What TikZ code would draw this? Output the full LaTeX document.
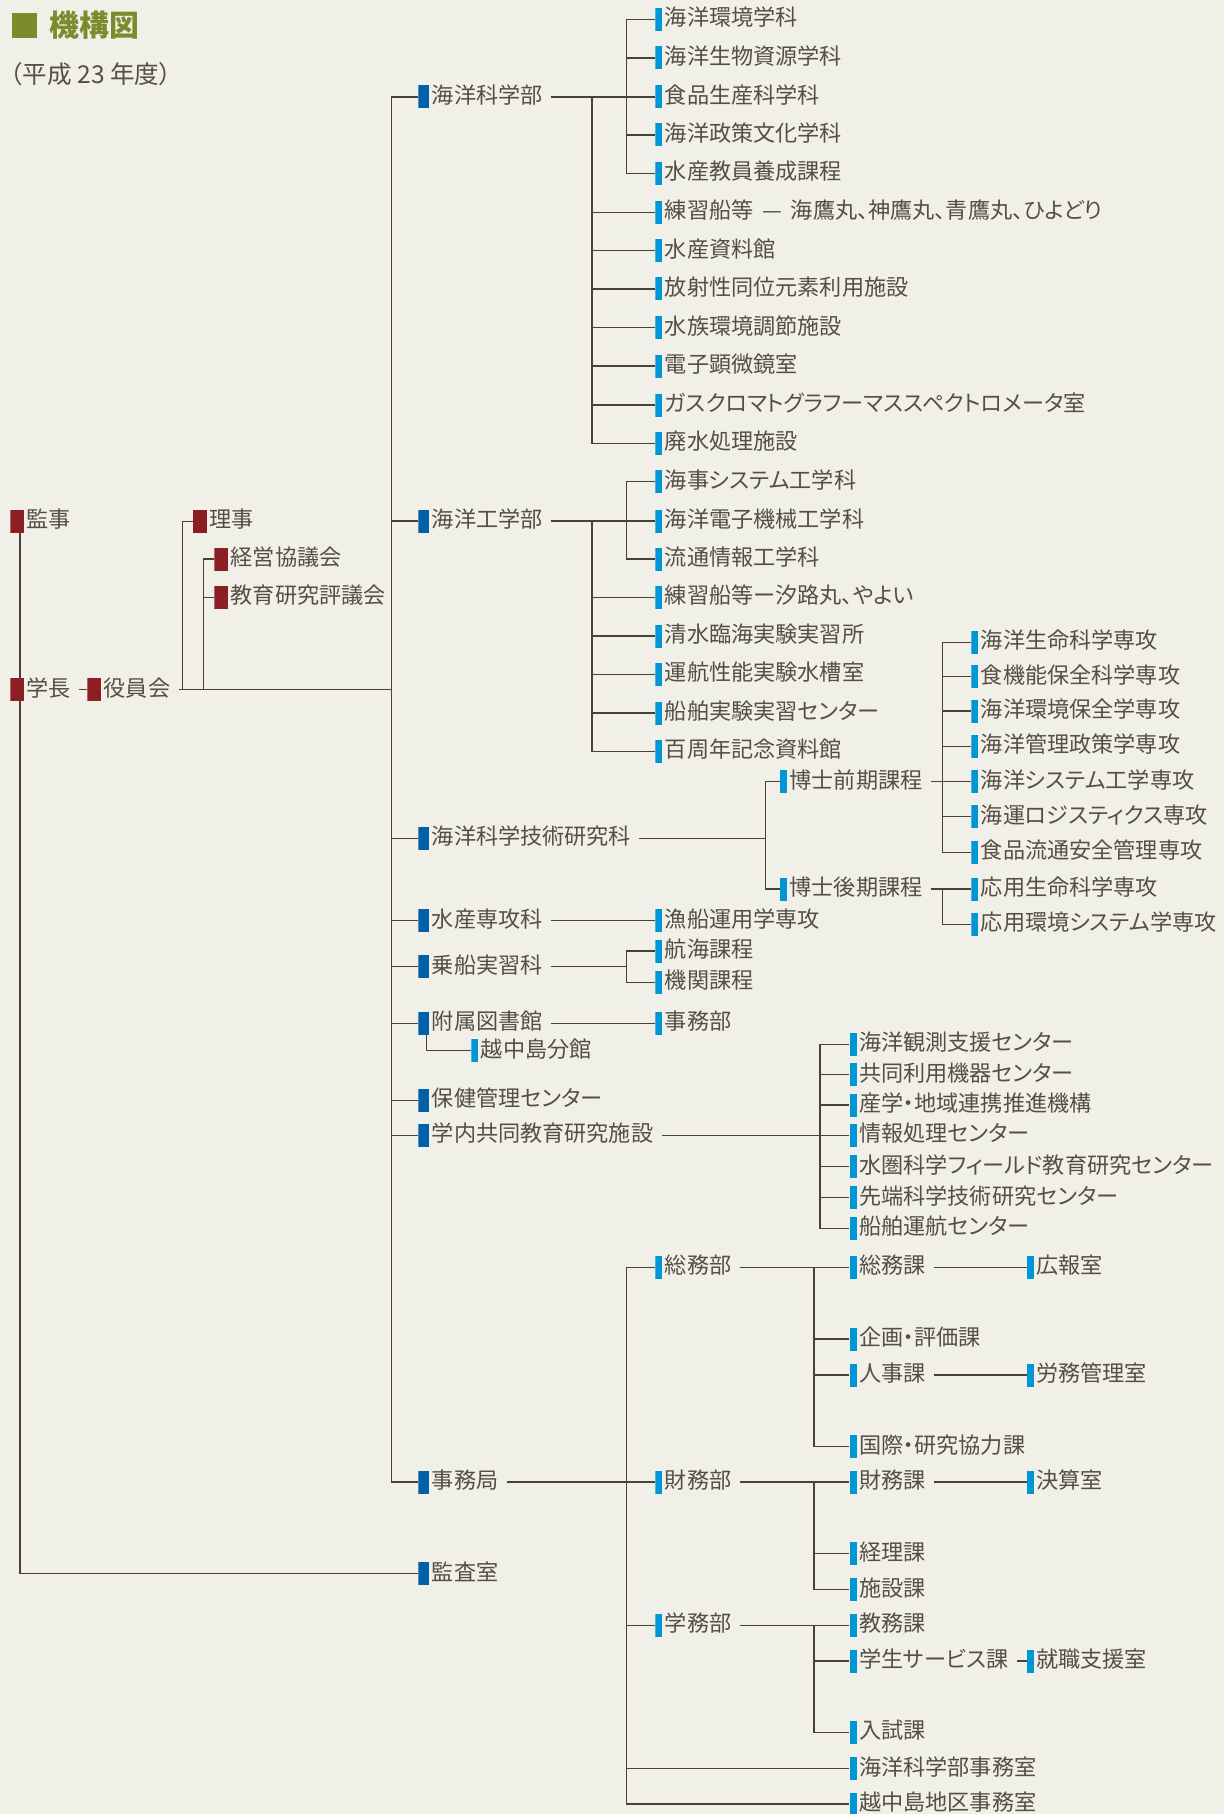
\documentclass[tikz,border=0pt]{standalone}
\usepackage{fontspec}
\setmainfont{Noto Sans CJK JP}[RawFeature=+palt]
\usetikzlibrary{calc}

\definecolor{paper}{HTML}{F0EFE8}
\definecolor{ink}{HTML}{554E47}
\definecolor{rule}{HTML}{4A4036}
\definecolor{execred}{HTML}{8C1F24}
\definecolor{deepblue}{HTML}{0061A8}
\definecolor{skyblue}{HTML}{0096D6}
\definecolor{leaf}{HTML}{7A8C2E}
\newcommand\unitfont{\fontsize{12.6pt}{14pt}\selectfont}

\begin{document}
\begin{tikzpicture}[x=0.2mm,y=-0.2mm,
    ln/.style={draw=rule,line width=0.8pt},
    unit/.style 2 args={anchor=west,inner sep=0pt,minimum height=4.6mm,
      text height=0.88em,text depth=0.12em,text=ink,font=\unitfont,
      execute at begin node={\hspace*{#2}\hspace*{0.5mm}},
      path picture={\fill[#1] (path picture bounding box.south west)
        rectangle ([xshift=#2]path picture bounding box.north west);}},
    exec/.style={unit={execred}{2.8mm}},
    dept/.style={unit={deepblue}{2.2mm}},
    sect/.style={unit={skyblue}{1.4mm}}]
  \useasboundingbox[fill=paper] (0,0) rectangle (1224,1814);

  % title
  \fill[leaf] (11.7,13) rectangle (37,38);
  \node[anchor=west,inner sep=0pt,text=leaf,font=\bfseries\fontsize{17pt}{19pt}\selectfont] (title) at (49,25.5) {機構図};
  \node[anchor=west,inner sep=0pt,text=ink,font=\fontsize{14pt}{16pt}\selectfont] (year) at (10,74) {（平成 23 年度）};

  % bus lines
  \coordinate (trunk) at (391.5,0);
  \coordinate (busR) at (182.7,0);
  \coordinate (busK) at (203.7,0);
  \coordinate (busA) at (592,0);
  \coordinate (busB) at (626.4,0);
  \coordinate (busD) at (765.4,0);
  \coordinate (busM) at (942.2,0);
  \coordinate (busC) at (820,0);
  \coordinate (busJ) at (813.8,0);

  % executives
  \node[exec] (kanji) at (10,521) {監事};
  \node[exec] (gakucho) at (10,689.5) {学長};
  \node[exec] (yakuin) at (87,689.5) {役員会};
  \node[exec] (riji) at (192.8,521.3) {理事};
  \node[exec] (keiei) at (213.9,559) {経営協議会};
  \node[exec] (kyoiku) at (213.9,597.3) {教育研究評議会};

  % departments
  \foreach \yy/\nm/\txt in {97/kagaku/海洋科学部, 521/kogaku/海洋工学部,
      838.3/kenkyuka/海洋科学技術研究科, 920.7/senkoka/水産専攻科,
      966.7/jousen/乗船実習科, 1023.3/tosho/附属図書館,
      1100.3/hoken/保健管理センター, 1135.3/kyodo/学内共同教育研究施設,
      1482/jimu/事務局, 1573.7/kansa/監査室}
    \node[dept] (\nm) at (418,\yy) {\txt};
  \node[sect] (bunkan) at (471,1050.7) {越中島分館};

  % 海洋科学部
  \foreach \yy/\nm/\txt in {19.3/s1/海洋環境学科, 58/s2/海洋生物資源学科,
      97/s3/食品生産科学科, 135/s4/海洋政策文化学科, 173.3/s5/水産教員養成課程,
      212.3/s6/練習船等\hspace{0.4em}—\hspace{0.4em}海鷹丸、神鷹丸、青鷹丸、ひよどり,
      250.7/s7/水産資料館,
      289/s8/放射性同位元素利用施設, 327.7/s9/水族環境調節施設,
      366/s10/電子顕微鏡室, 405/s11/ガスクロマトグラフーマススペクトロメータ室,
      443.3/s12/廃水処理施設}
    \node[sect] (\nm) at (655,\yy) {\txt};

  % 海洋工学部
  \foreach \yy/\nm/\txt in {481.7/e1/海事システム工学科, 521/e2/海洋電子機械工学科,
      559/e3/流通情報工学科, 597.3/e4/練習船等ー汐路丸、やよい,
      636/e5/清水臨海実験実習所, 674.3/e6/運航性能実験水槽室,
      713/e7/船舶実験実習センター, 751.3/e8/百周年記念資料館}
    \node[sect] (\nm) at (655,\yy) {\txt};

  % 研究科
  \node[sect] (zenki) at (779.8,781.5) {博士前期課程};
  \node[sect] (koki) at (779.8,889) {博士後期課程};
  \foreach \yy/\nm/\txt in {642.3/m1/海洋生命科学専攻, 676.7/m2/食機能保全科学専攻,
      711/m3/海洋環境保全学専攻, 746.3/m4/海洋管理政策学専攻,
      781.5/m5/海洋システム工学専攻, 816.7/m6/海運ロジスティクス専攻,
      852.3/m7/食品流通安全管理専攻, 889/d1/応用生命科学専攻,
      924.3/d2/応用環境システム学専攻}
    \node[sect] (\nm) at (971,\yy) {\txt};

  \node[sect] (gyosen) at (655,920.7) {漁船運用学専攻};
  \node[sect] (kokai) at (655,951) {航海課程};
  \node[sect] (kikan) at (655,982.3) {機関課程};
  \node[sect] (jimubu) at (655,1023.3) {事務部};

  % 学内共同教育研究施設
  \foreach \yy/\nm/\txt in {1044.3/c1/海洋観測支援センター, 1074.7/c2/共同利用機器センター,
      1105/c3/産学・地域連携推進機構, 1135.3/c4/情報処理センター,
      1166.7/c5/水圏科学フィールド教育研究センター, 1197.7/c6/先端科学技術研究センター,
      1228.3/c7/船舶運航センター}
    \node[sect] (\nm) at (849.3,\yy) {\txt};

  % 事務局
  \node[sect] (somu) at (655,1267.3) {総務部};
  \node[sect] (zaimu) at (655,1482) {財務部};
  \node[sect] (gakumu) at (655,1625.3) {学務部};
  \foreach \yy/\nm/\txt in {1267.3/somuka/総務課, 1339/kikaku/企画・評価課,
      1375/jinji/人事課, 1446.7/kokusai/国際・研究協力課, 1482/zaimuka/財務課,
      1553.7/keiri/経理課, 1589.7/shisetsu/施設課, 1625.3/kyomu/教務課,
      1661/gakusei/学生サービス課, 1732.3/nyushi/入試課,
      1768.3/kaiyo/海洋科学部事務室, 1804/etchu/越中島地区事務室}
    \node[sect] (\nm) at (849.3,\yy) {\txt};
  \node[sect] (kouhou) at (1026.5,1267.3) {広報室};
  \node[sect] (romu) at (1026.5,1375) {労務管理室};
  \node[sect] (kessan) at (1026.5,1482) {決算室};
  \node[sect] (shushoku) at (1026.5,1661) {就職支援室};

  % connectors: executives
  \draw[ln] ([xshift=2mm]kanji.south west) -- ([xshift=2mm]gakucho.north west);
  \draw[ln] ([xshift=2mm]gakucho.south west) |- (kansa.west);
  \draw[ln] ([xshift=1.6mm]gakucho.east) -- (yakuin.west);
  \draw[ln] ([xshift=1.6mm]yakuin.east) -- (trunk |- yakuin.west);
  \draw[ln] (riji.west) -| (busR |- yakuin.west);
  \draw[ln] (keiei.west) -| (busK |- yakuin.west);
  \draw[ln] (busK |- kyoiku.west) -- (kyoiku.west);

  % trunk
  \draw[ln] (kagaku.west) -| (trunk |- jimu.west) -- (jimu.west);
  \foreach \nm in {kogaku,kenkyuka,senkoka,jousen,tosho,hoken,kyodo}
    \draw[ln] (trunk |- \nm.west) -- (\nm.west);

  % 海洋科学部
  \draw[ln] ([xshift=1.6mm]kagaku.east) -- (s3.west);
  \draw[ln] (busA |- kagaku.west) |- (s12.west);
  \draw[ln] (s1.west) -| (busB |- s5.west) -- (s5.west);
  \foreach \nm in {s2,s4}
    \draw[ln] (busB |- \nm.west) -- (\nm.west);
  \foreach \nm in {s6,s7,s8,s9,s10,s11}
    \draw[ln] (busA |- \nm.west) -- (\nm.west);

  % 海洋工学部
  \draw[ln] ([xshift=1.6mm]kogaku.east) -- (e2.west);
  \draw[ln] (busA |- kogaku.west) |- (e8.west);
  \draw[ln] (e1.west) -| (busB |- e3.west) -- (e3.west);
  \foreach \nm in {e4,e5,e6,e7}
    \draw[ln] (busA |- \nm.west) -- (\nm.west);

  % 研究科
  \draw[ln] ([xshift=1.6mm]kenkyuka.east) -- (busD |- kenkyuka.west);
  \draw[ln] (zenki.west) -| (busD |- koki.west) -- (koki.west);
  \draw[ln] ([xshift=1.6mm]zenki.east) -- (m5.west);
  \draw[ln] (m1.west) -| (busM |- m7.west) -- (m7.west);
  \foreach \nm in {m2,m3,m4,m6}
    \draw[ln] (busM |- \nm.west) -- (\nm.west);
  \draw[ln] ([xshift=1.6mm]koki.east) -- (d1.west);
  \draw[ln] (busM |- d1.west) |- (d2.west);

  \draw[ln] ([xshift=1.6mm]senkoka.east) -- (gyosen.west);
  \draw[ln] ([xshift=1.6mm]jousen.east) -- (busB |- jousen.west);
  \draw[ln] (kokai.west) -| (busB |- kikan.west) -- (kikan.west);
  \draw[ln] ([xshift=1.6mm]tosho.east) -- (jimubu.west);
  \draw[ln] ([xshift=1.7mm]tosho.south west) |- (bunkan.west);

  % 学内共同教育研究施設
  \draw[ln] ([xshift=1.6mm]kyodo.east) -- (c4.west);
  \draw[ln] (c1.west) -| (busC |- c7.west) -- (c7.west);
  \foreach \nm in {c2,c3,c5,c6}
    \draw[ln] (busC |- \nm.west) -- (\nm.west);

  % 事務局
  \draw[ln] ([xshift=1.6mm]jimu.east) -- (zaimu.west);
  \draw[ln] (somu.west) -| (busB |- etchu.west) -- (etchu.west);
  \foreach \nm in {gakumu,kaiyo}
    \draw[ln] (busB |- \nm.west) -- (\nm.west);
  \draw[ln] ([xshift=1.6mm]somu.east) -- (somuka.west);
  \draw[ln] (busJ |- somu.west) |- (kokusai.west);
  \foreach \nm in {kikaku,jinji}
    \draw[ln] (busJ |- \nm.west) -- (\nm.west);
  \draw[ln] ([xshift=1.6mm]zaimu.east) -- (zaimuka.west);
  \draw[ln] (busJ |- zaimu.west) |- (shisetsu.west);
  \draw[ln] (busJ |- keiri.west) -- (keiri.west);
  \draw[ln] ([xshift=1.6mm]gakumu.east) -- (kyomu.west);
  \draw[ln] (busJ |- gakumu.west) |- (nyushi.west);
  \draw[ln] (busJ |- gakusei.west) -- (gakusei.west);
  \draw[ln] ([xshift=1.6mm]somuka.east) -- (kouhou.west);
  \draw[ln] ([xshift=1.6mm]jinji.east) -- (romu.west);
  \draw[ln] ([xshift=1.6mm]zaimuka.east) -- (kessan.west);
  \draw[ln] ([xshift=1.6mm]gakusei.east) -- (shushoku.west);
\end{tikzpicture}
\end{document}
